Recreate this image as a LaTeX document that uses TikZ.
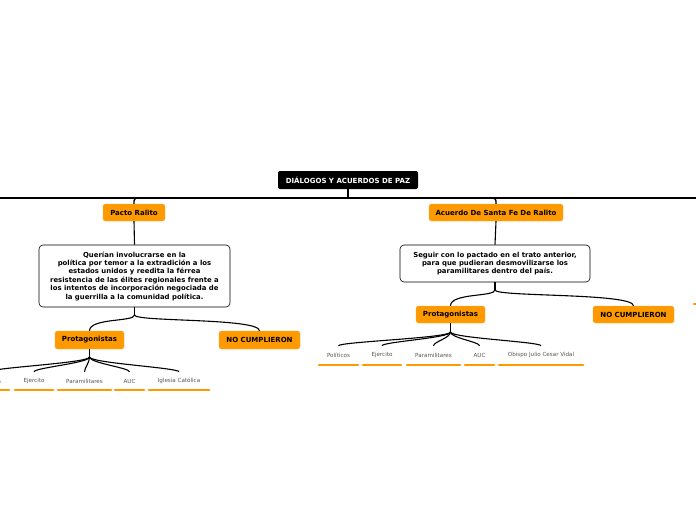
\documentclass[tikz,border=0pt]{standalone}
\usepackage{fontspec}
\setmainfont{DejaVu Sans}
\usetikzlibrary{calc}
\definecolor{orangeA}{RGB}{255,153,0}
\definecolor{leafgray}{RGB}{85,85,85}
\begin{document}
\begin{tikzpicture}[x=1pt,y=-1pt,
  rootbox/.style={fill=black, text=white, rounded corners=2pt, inner sep=0pt,
    font=\bfseries\fontsize{7}{8}\selectfont, minimum width=140pt, minimum height=18pt},
  obox/.style={fill=orangeA, draw=orangeA!80!white, rounded corners=2.5pt, inner sep=0pt,
    font=\bfseries\fontsize{7}{8}\selectfont, text=black},
  tbox/.style={draw=black, fill=white, rounded corners=4pt, line width=0.6pt, inner sep=0pt,
    align=center, font=\bfseries\fontsize{6.9}{8.4}\selectfont},
  leaf/.style={text=leafgray, inner sep=0pt, font=\fontsize{5.6}{6}\selectfont, minimum height=6pt},
  bar/.style={draw=orangeA, line width=2.2pt, line cap=round},
  conn/.style={draw=black, line width=1.1pt},
  topconn/.style={draw=black, line width=1.4pt, rounded corners=3pt}]
\useasboundingbox (0,0) rectangle (696,520);

% root
\node[rootbox] (root) at (348,180) {DIÁLOGOS Y ACUERDOS DE PAZ};
\coordinate (hub) at (348,198);
\coordinate (offL) at (-5,198);
\coordinate (offR) at (701,198);

% level 1
\node[obox, minimum width=62pt, minimum height=17pt] (pr) at (134,212.5) {Pacto Ralito};
\node[obox, minimum width=134pt, minimum height=17pt] (ac) at (496,212.5) {Acuerdo De Santa Fe De Ralito};

\draw[line width=2pt] (root.south) -- (hub);
\draw[topconn] (hub) -- (offL);
\draw[topconn] (hub) -- (offR);
\draw[topconn] (hub) -| (pr.north);
\draw[topconn] (hub) -| (ac.north);

% text boxes
\node[tbox, minimum width=191pt, minimum height=62pt] (b1) at (134.5,276) {Querían involucrarse en la\\política por temor a la extradición a los\\estados unidos y reedita la férrea\\resistencia de las élites regionales frente a\\los intentos de incorporación negociada de\\la guerrilla a la comunidad política.};
\node[tbox, minimum width=190pt, minimum height=37pt] (b2) at (495,263.5) {Seguir con lo pactado en el trato anterior,\\para que pudieran desmovilizarse los\\paramilitares dentro del país.};

\draw[conn] (pr.south) -- (b1.north);
\draw[conn] (ac.south) -- (b2.north);

% protagonistas / no cumplieron
\node[obox, minimum width=69pt, minimum height=18pt] (p1) at (89.5,340) {Protagonistas};
\node[obox, minimum width=81pt, minimum height=18pt] (n1) at (259.5,340) {NO CUMPLIERON};
\node[obox, minimum width=69pt, minimum height=17pt] (p2) at (450.5,314.5) {Protagonistas};
\node[obox, minimum width=81pt, minimum height=17pt] (n2) at (633.5,314.5) {NO CUMPLIERON};

\coordinate (j1) at (134.5,315);
\coordinate (j2) at (495,290);
\draw[conn] (b1.south) -- (j1);
\draw[conn] (b2.south) -- (j2);
\foreach \c in {p1,n1} {
  \draw[conn] (j1) .. controls (134.5,322) and ($(\c.north)+(0,-13)$) .. (\c.north);
}
\foreach \c in {p2,n2} {
  \draw[conn] (j2) .. controls (495,297) and ($(\c.north)+(0,-13)$) .. (\c.north);
}

% leaves left
\node[leaf, minimum width=39pt] (l1) at (-10.5,381) {Políticos};
\node[leaf, minimum width=38pt] (l2) at (34,381) {Ejercito};
\node[leaf, minimum width=53pt] (l3) at (84.5,381) {Paramilitares};
\node[leaf, minimum width=29pt] (l4) at (129.5,381) {AUC};
\node[leaf, minimum width=60pt] (l5) at (179,381) {Iglesia Católica};
\coordinate (k1) at (89.5,357);
\draw[conn] (p1.south) -- (k1);
\foreach \c in {l1,l2,l3,l4,l5} {
  \draw[bar] ([yshift=-9pt]\c.west) -- ([yshift=-9pt]\c.east);
  \draw[conn] (k1) .. controls (89.5,363) and ($(\c.north)+(0,-10)$) .. ($(\c.north)+(0,-6)$);
}

% leaves right
\node[leaf, minimum width=39pt] (r1) at (338.5,355) {Políticos};
\node[leaf, minimum width=38pt] (r2) at (382,355) {Ejercito};
\node[leaf, minimum width=53pt] (r3) at (433.5,355) {Paramilitares};
\node[leaf, minimum width=29pt] (r4) at (479.5,355) {AUC};
\node[leaf, minimum width=84pt] (r5) at (541,355) {Obispo Julio Cesar Vidal};
\coordinate (k2) at (450.5,332);
\draw[conn] (p2.south) -- (k2);
\foreach \c in {r1,r2,r3,r4,r5} {
  \draw[bar] ([yshift=-10pt]\c.west) -- ([yshift=-10pt]\c.east);
  \draw[conn] (k2) .. controls (450.5,338) and ($(\c.north)+(0,-10)$) .. ($(\c.north)+(0,-6)$);
}

% fragment of an element beyond the right edge
\coordinate (e1) at (694,304);
\coordinate (e2) at (704,304);
\draw[bar] (e1) -- (e2);
\end{tikzpicture}
\end{document}
